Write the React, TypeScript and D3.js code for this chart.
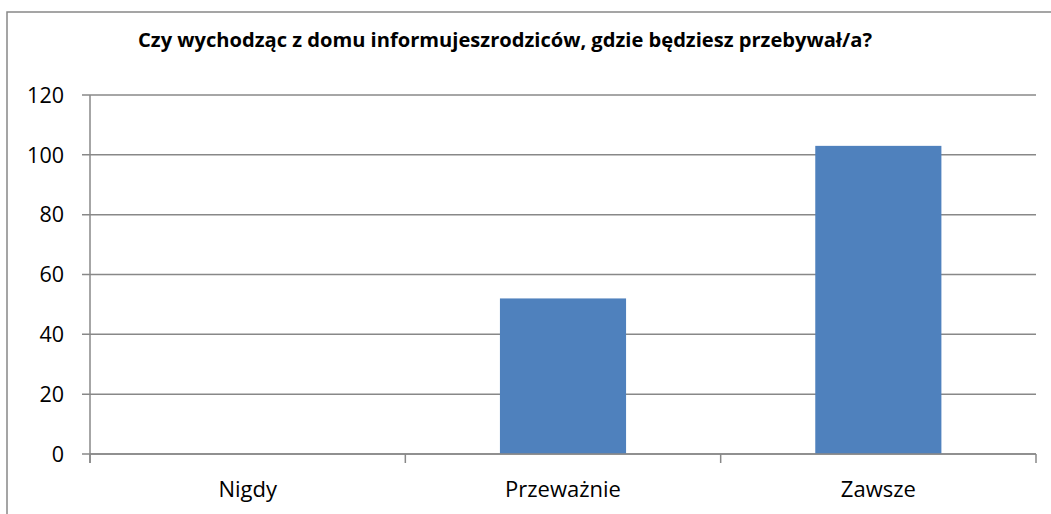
import React from "react";
import * as d3 from "d3";

const title = "Czy wychodząc z domu informujeszrodziców, gdzie będziesz przebywał/a?";
const categories = ["Nigdy", "Przeważnie", "Zawsze"];
const values = [0, 52, 103];
const yTicks = [0, 20, 40, 60, 80, 100, 120];

const W = 1051;
const H = 514;
const left = 90;
const right = 1036;
const top = 95;
const bottom = 454;
const grid = "#888888";
const font = "'Open Sans', 'Noto Sans', sans-serif";

export default function App() {
  const x = d3.scaleBand<string>().domain(categories).range([left, right]).padding(0);
  const y = d3.scaleLinear().domain([0, 120]).range([bottom, top]);
  const bw = x.bandwidth() * 0.4;
  const boundaries = [...categories.map((c) => x(c) as number), right];

  return (
    <svg
      width={W}
      height={H}
      style={{ position: "absolute", left: 0, top: 0, background: "#fff" }}
    >
      <rect x={7} y={12} width={W + 10} height={H + 10} fill="#fff" stroke={grid} strokeWidth={1.5} />
      <text
        x={505}
        y={47}
        textAnchor="middle"
        fontFamily={font}
        fontWeight="bold"
        fontSize={19}
        textLength={734}
        lengthAdjust="spacingAndGlyphs"
        fill="#000"
      >
        {title}
      </text>
      {yTicks.map((t) => (
        <g key={t}>
          <line x1={82} x2={right} y1={y(t)} y2={y(t)} stroke={grid} strokeWidth={1.5} />
          <text
            x={64}
            y={y(t)}
            dy="0.36em"
            textAnchor="end"
            fontFamily={font}
            fontSize={21.5}
            fill="#000"
          >
            {t}
          </text>
        </g>
      ))}
      <line x1={left} x2={left} y1={top} y2={463} stroke={grid} strokeWidth={1.5} />
      {boundaries.map((b, i) => (
        <line key={i} x1={b} x2={b} y1={bottom} y2={463} stroke={grid} strokeWidth={1.5} />
      ))}
      {categories.map((c, i) => {
        const cx = (x(c) as number) + x.bandwidth() / 2;
        return (
          <g key={c}>
            {values[i] > 0 && (
              <rect
                x={cx - bw / 2}
                y={y(values[i])}
                width={bw}
                height={bottom - y(values[i])}
                fill="#4F81BD"
              />
            )}
            <text
              x={cx}
              y={497}
              textAnchor="middle"
              fontFamily={font}
              fontSize={22}
              fill="#000"
            >
              {c}
            </text>
          </g>
        );
      })}
      <line x1={left} x2={right} y1={bottom} y2={bottom} stroke={grid} strokeWidth={1.5} />
    </svg>
  );
}
